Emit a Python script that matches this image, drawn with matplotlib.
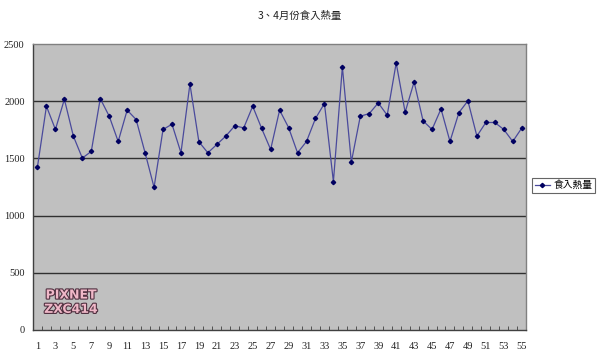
import numpy as np
import matplotlib
matplotlib.use('Agg')
import matplotlib.pyplot as plt
import matplotlib.patheffects as pe

plt.rcParams['font.family'] = ['Noto Sans CJK TC', 'DejaVu Sans']

# 每日食入熱量 (3、4月)
days = list(range(1, 56))
kcal = [1427, 1956, 1753, 2017, 1695, 1503, 1561, 2023, 1869, 1648,
        1922, 1840, 1549, 1247, 1753, 1799, 1549, 2150, 1645, 1549,
        1622, 1695, 1785, 1767, 1956, 1762, 1578, 1922, 1770, 1549,
        1648, 1849, 1980, 1297, 2300, 1468, 1869, 1892, 1985, 1878,
        2334, 1904, 2169, 1828, 1753, 1933, 1648, 1901, 2003, 1695,
        1814, 1814, 1753, 1648, 1765]
series_name = '食入熱量'
title = '3、4月份食入熱量'
yticks = [0, 500, 1000, 1500, 2000, 2500]

fig = plt.figure(figsize=(6, 3.61), dpi=100)
ax = fig.add_axes([0.055, 0.086, 0.822, 0.792])
ax.set_facecolor('#c0c0c0')

ax.plot(days, kcal, color='#4a4a9c', lw=0.9, marker='D', ms=2.2,
        mfc='#000060', mec='#000060', label=series_name, zorder=3)

ax.set_xlim(0.5, 55.5)
ax.set_ylim(0, 2500)
ax.set_yticks(yticks)
for v in yticks[1:-1]:
    ax.axhline(v, color='#303030', lw=1.0, zorder=1)

ax.set_xticks(days[::2])
ax.set_xticks(np.arange(0.5, 56, 1), minor=True)
ax.tick_params(axis='x', which='major', length=0, pad=9)
ax.tick_params(axis='x', which='minor', length=3, direction='in', color='#404040')
ax.tick_params(axis='y', length=0, pad=6)
for lab in ax.get_xticklabels() + ax.get_yticklabels():
    lab.set_fontfamily(['Liberation Serif', 'DejaVu Serif'])
    lab.set_fontsize(7.5)
    lab.set_color('#222222')

for s in ['top', 'right']:
    ax.spines[s].set_color('#808080')
    ax.spines[s].set_linewidth(1.0)
for s in ['left', 'bottom']:
    ax.spines[s].set_color('#404040')
    ax.spines[s].set_linewidth(1.0)

fig.text(0.5, 0.955, title, ha='center', va='center', fontsize=7.5, color='#222222')

leg = fig.legend(loc='center left', bbox_to_anchor=(0.887, 0.487), fontsize=7,
                 frameon=True, fancybox=False, edgecolor='#404040',
                 handlelength=1.6, borderpad=0.25, handletextpad=0.3,
                 borderaxespad=0)
leg.get_frame().set_linewidth(0.8)

wm = ['PIXNET', 'ZXC414']
ax.text(0.077, 0.122, wm[0], transform=ax.transAxes, fontsize=9, fontweight='bold',
        color='#f0b8c8', ha='center', va='center', family='DejaVu Sans',
        path_effects=[pe.withStroke(linewidth=1.6, foreground='#503040')])
ax.text(0.077, 0.072, wm[1], transform=ax.transAxes, fontsize=9, fontweight='bold',
        color='#f0b8c8', ha='center', va='center', family='DejaVu Sans',
        path_effects=[pe.withStroke(linewidth=1.6, foreground='#503040')])

fig.savefig('out.png', dpi=100)
